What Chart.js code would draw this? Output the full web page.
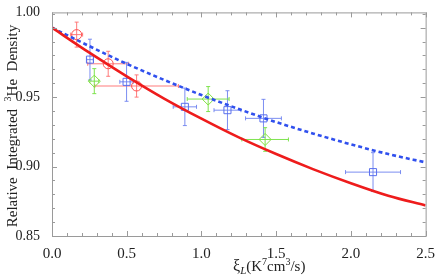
<!DOCTYPE html>
<html lang="en">
<head>
    <meta charset="UTF-8">
    <title>Relative Integrated 3He Density</title>
    <script src="https://cdn.jsdelivr.net/npm/chart.js@4.4.1/dist/chart.umd.min.js"></script>
    <style>
        html, body { margin: 0; padding: 0; background: #fff; }
        #wrap { width: 436px; height: 279px; }
    </style>
</head>
<body>
    <div id="wrap"><canvas id="densityChart"></canvas></div>

    <script>
        // model curves
        const curveX = [0, 0.25, 0.5, 0.75, 1.0, 1.25, 1.5, 1.75, 2.0, 2.25, 2.5];
        const redCurve = [1.000, 0.982, 0.965, 0.949, 0.9345, 0.921, 0.909, 0.898, 0.888, 0.879, 0.872];
        const blueCurve = [1.000, 0.9867, 0.974, 0.9624, 0.9515, 0.9414, 0.932, 0.9237, 0.916, 0.909, 0.903];

        // measurements (circles / squares / diamonds)
        const redX = [0.165, 0.376, 0.566];
        const redY = [0.995, 0.974, 0.958];
        const redXErr = [0.04, 0.137, 0.28];
        const redYErr = [0.009, 0.009, 0.008];

        const blueX = [0.254, 0.499, 0.889, 1.174, 1.415, 2.148];
        const blueY = [0.977, 0.961, 0.943, 0.9406, 0.9347, 0.896];
        const blueXErr = [0.022, 0.045, 0.078, 0.09, 0.12, 0.184];
        const blueYErr = [0.0147, 0.014, 0.0135, 0.014, 0.0137, 0.014];

        const greenX = [0.283, 1.045, 1.426];
        const greenY = [0.9615, 0.9486, 0.9195];
        const greenXErr = [0.03, 0.14, 0.156];
        const greenYErr = [0.009, 0.009, 0.0085];

        const xTicks = [0, 0.5, 1.0, 1.5, 2.0, 2.5];
        const yTicks = [0.85, 0.90, 0.95];
        const yTopLabel = '1.00';

        const Y_MIN = 0.85, Y_MAX = 1.011;
        const serif = '"Liberation Serif", "DejaVu Serif", serif';

        const pts = (xs, ys) => xs.map((x, i) => ({ x: x, y: ys[i] }));

        // error bars with little caps
        const errorBars = {
            id: 'errorBars',
            beforeDatasetsDraw(chart) {
                const ctx = chart.ctx, xs = chart.scales.x, ys = chart.scales.y;
                chart.data.datasets.forEach(ds => {
                    if (!ds.xErr) return;
                    ctx.save();
                    ctx.strokeStyle = ds.barColor;
                    ctx.lineWidth = 1;
                    ds.data.forEach((p, i) => {
                        const cx = xs.getPixelForValue(p.x), cy = ys.getPixelForValue(p.y);
                        const x0 = xs.getPixelForValue(p.x - ds.xErr[i]), x1 = xs.getPixelForValue(p.x + ds.xErr[i]);
                        const y0 = ys.getPixelForValue(p.y - ds.yErr[i]), y1 = ys.getPixelForValue(p.y + ds.yErr[i]);
                        ctx.beginPath();
                        ctx.moveTo(x0, cy); ctx.lineTo(x1, cy);
                        ctx.moveTo(x0, cy - 2); ctx.lineTo(x0, cy + 2);
                        ctx.moveTo(x1, cy - 2); ctx.lineTo(x1, cy + 2);
                        ctx.moveTo(cx, y0); ctx.lineTo(cx, y1);
                        ctx.moveTo(cx - 2, y0); ctx.lineTo(cx + 2, y0);
                        ctx.moveTo(cx - 2, y1); ctx.lineTo(cx + 2, y1);
                        ctx.stroke();
                    });
                    ctx.restore();
                });
            }
        };

        // frame with inward ticks on all four sides, plus the axis titles
        const frame = {
            id: 'frame',
            afterDraw(chart) {
                const ctx = chart.ctx, a = chart.chartArea;
                const xs = chart.scales.x, ys = chart.scales.y;
                ctx.save();
                ctx.strokeStyle = '#9a9a9a';
                ctx.lineWidth = 1;
                ctx.strokeRect(a.left + 0.5, a.top + 0.5, a.right - a.left, a.bottom - a.top);
                ctx.beginPath();
                for (let i = 0; i <= 25; i++) {
                    const px = Math.round(xs.getPixelForValue(i / 10)) + 0.5;
                    const len = i % 5 === 0 ? 5 : 3;
                    ctx.moveTo(px, a.bottom); ctx.lineTo(px, a.bottom - len);
                    ctx.moveTo(px, a.top); ctx.lineTo(px, a.top + len);
                }
                for (let i = 0; i <= 16; i++) {
                    const py = Math.round(ys.getPixelForValue(0.85 + i / 100)) + 0.5;
                    const len = i % 5 === 0 ? 5 : 3;
                    ctx.moveTo(a.left, py); ctx.lineTo(a.left + len, py);
                    ctx.moveTo(a.right, py); ctx.lineTo(a.right - len, py);
                }
                ctx.stroke();

                // x title: ξ_L (K^7 cm^3/s)
                ctx.fillStyle = '#222';
                ctx.textBaseline = 'alphabetic';
                let x = 233;
                const base = 271;
                const put = (t, font, dy) => {
                    ctx.font = font;
                    ctx.fillText(t, x, base + dy);
                    x += ctx.measureText(t).width;
                };
                put('ξ', '16px ' + serif, 0);
                put('L', 'italic 11px ' + serif, 3);
                put('(K', '15px ' + serif, 0);
                put('7', '10px ' + serif, -6);
                put('cm', '15px ' + serif, 0);
                put('3', '10px ' + serif, -6);
                put('/s)', '15px ' + serif, 0);

                // y title
                ctx.translate(6, 126);
                ctx.rotate(-Math.PI / 2);
                ctx.textAlign = 'left';
                const parts = [['Relative  Integrated  ', 15, 0], ['3', 10, -6], ['He  Density', 15, 0]];
                let w = 0;
                parts.forEach(p => { ctx.font = p[1] + 'px ' + serif; w += ctx.measureText(p[0]).width; });
                let tx = -w / 2;
                parts.forEach(p => {
                    ctx.font = p[1] + 'px ' + serif;
                    ctx.fillText(p[0], tx, 11 + p[2]);
                    tx += ctx.measureText(p[0]).width;
                });
                ctx.restore();
            }
        };

        new Chart(document.getElementById('densityChart'), {
            type: 'scatter',
            data: {
                datasets: [
                    {
                        type: 'line',
                        data: pts(curveX, redCurve),
                        borderColor: '#ee1c1c',
                        borderWidth: 2.6,
                        pointRadius: 0,
                        cubicInterpolationMode: 'monotone',
                        fill: false
                    },
                    {
                        type: 'line',
                        data: pts(curveX, blueCurve),
                        borderColor: '#3050ee',
                        borderWidth: 2.6,
                        borderDash: [4, 3],
                        pointRadius: 0,
                        cubicInterpolationMode: 'monotone',
                        fill: false
                    },
                    {
                        data: pts(redX, redY),
                        xErr: redXErr, yErr: redYErr,
                        barColor: 'rgba(255,110,110,0.9)',
                        pointStyle: 'circle',
                        pointRadius: 5,
                        borderColor: '#ff5050',
                        backgroundColor: 'rgba(0,0,0,0)',
                        borderWidth: 1
                    },
                    {
                        data: pts(blueX, blueY),
                        xErr: blueXErr, yErr: blueYErr,
                        barColor: 'rgba(110,130,240,0.9)',
                        pointStyle: 'rect',
                        pointRadius: 5,
                        borderColor: '#5a70ee',
                        backgroundColor: 'rgba(0,0,0,0)',
                        borderWidth: 1
                    },
                    {
                        data: pts(greenX, greenY),
                        xErr: greenXErr, yErr: greenYErr,
                        barColor: 'rgba(120,225,70,0.95)',
                        pointStyle: 'rectRot',
                        pointRadius: 6,
                        borderColor: '#80e040',
                        backgroundColor: 'rgba(0,0,0,0)',
                        borderWidth: 1
                    }
                ]
            },
            options: {
                responsive: true,
                maintainAspectRatio: false,
                animation: false,
                layout: { padding: { left: 0, right: 10, top: 7, bottom: 0 } },
                plugins: { legend: { display: false }, tooltip: { enabled: false } },
                scales: {
                    x: {
                        type: 'linear',
                        min: 0, max: 2.5,
                        grid: { display: false },
                        border: { display: false },
                        afterBuildTicks: s => { s.ticks = xTicks.map(v => ({ value: v })); },
                        afterFit: s => { s.height = 43; },
                        ticks: {
                            padding: 1,
                            color: '#222',
                            font: { family: serif, size: 15 },
                            maxRotation: 0,
                            callback: v => v.toFixed(1)
                        }
                    },
                    y: {
                        type: 'linear',
                        min: Y_MIN, max: Y_MAX,
                        grid: { display: false },
                        border: { display: false },
                        afterBuildTicks: s => { s.ticks = yTicks.concat([Y_MAX]).map(v => ({ value: v })); },
                        afterFit: s => { s.width = 52; },
                        ticks: {
                            padding: 4,
                            color: '#222',
                            font: { family: serif, size: 14 },
                            callback: v => (v === Y_MAX ? yTopLabel : v.toFixed(2))
                        }
                    }
                }
            },
            plugins: [errorBars, frame]
        });
    </script>
</body>
</html>
